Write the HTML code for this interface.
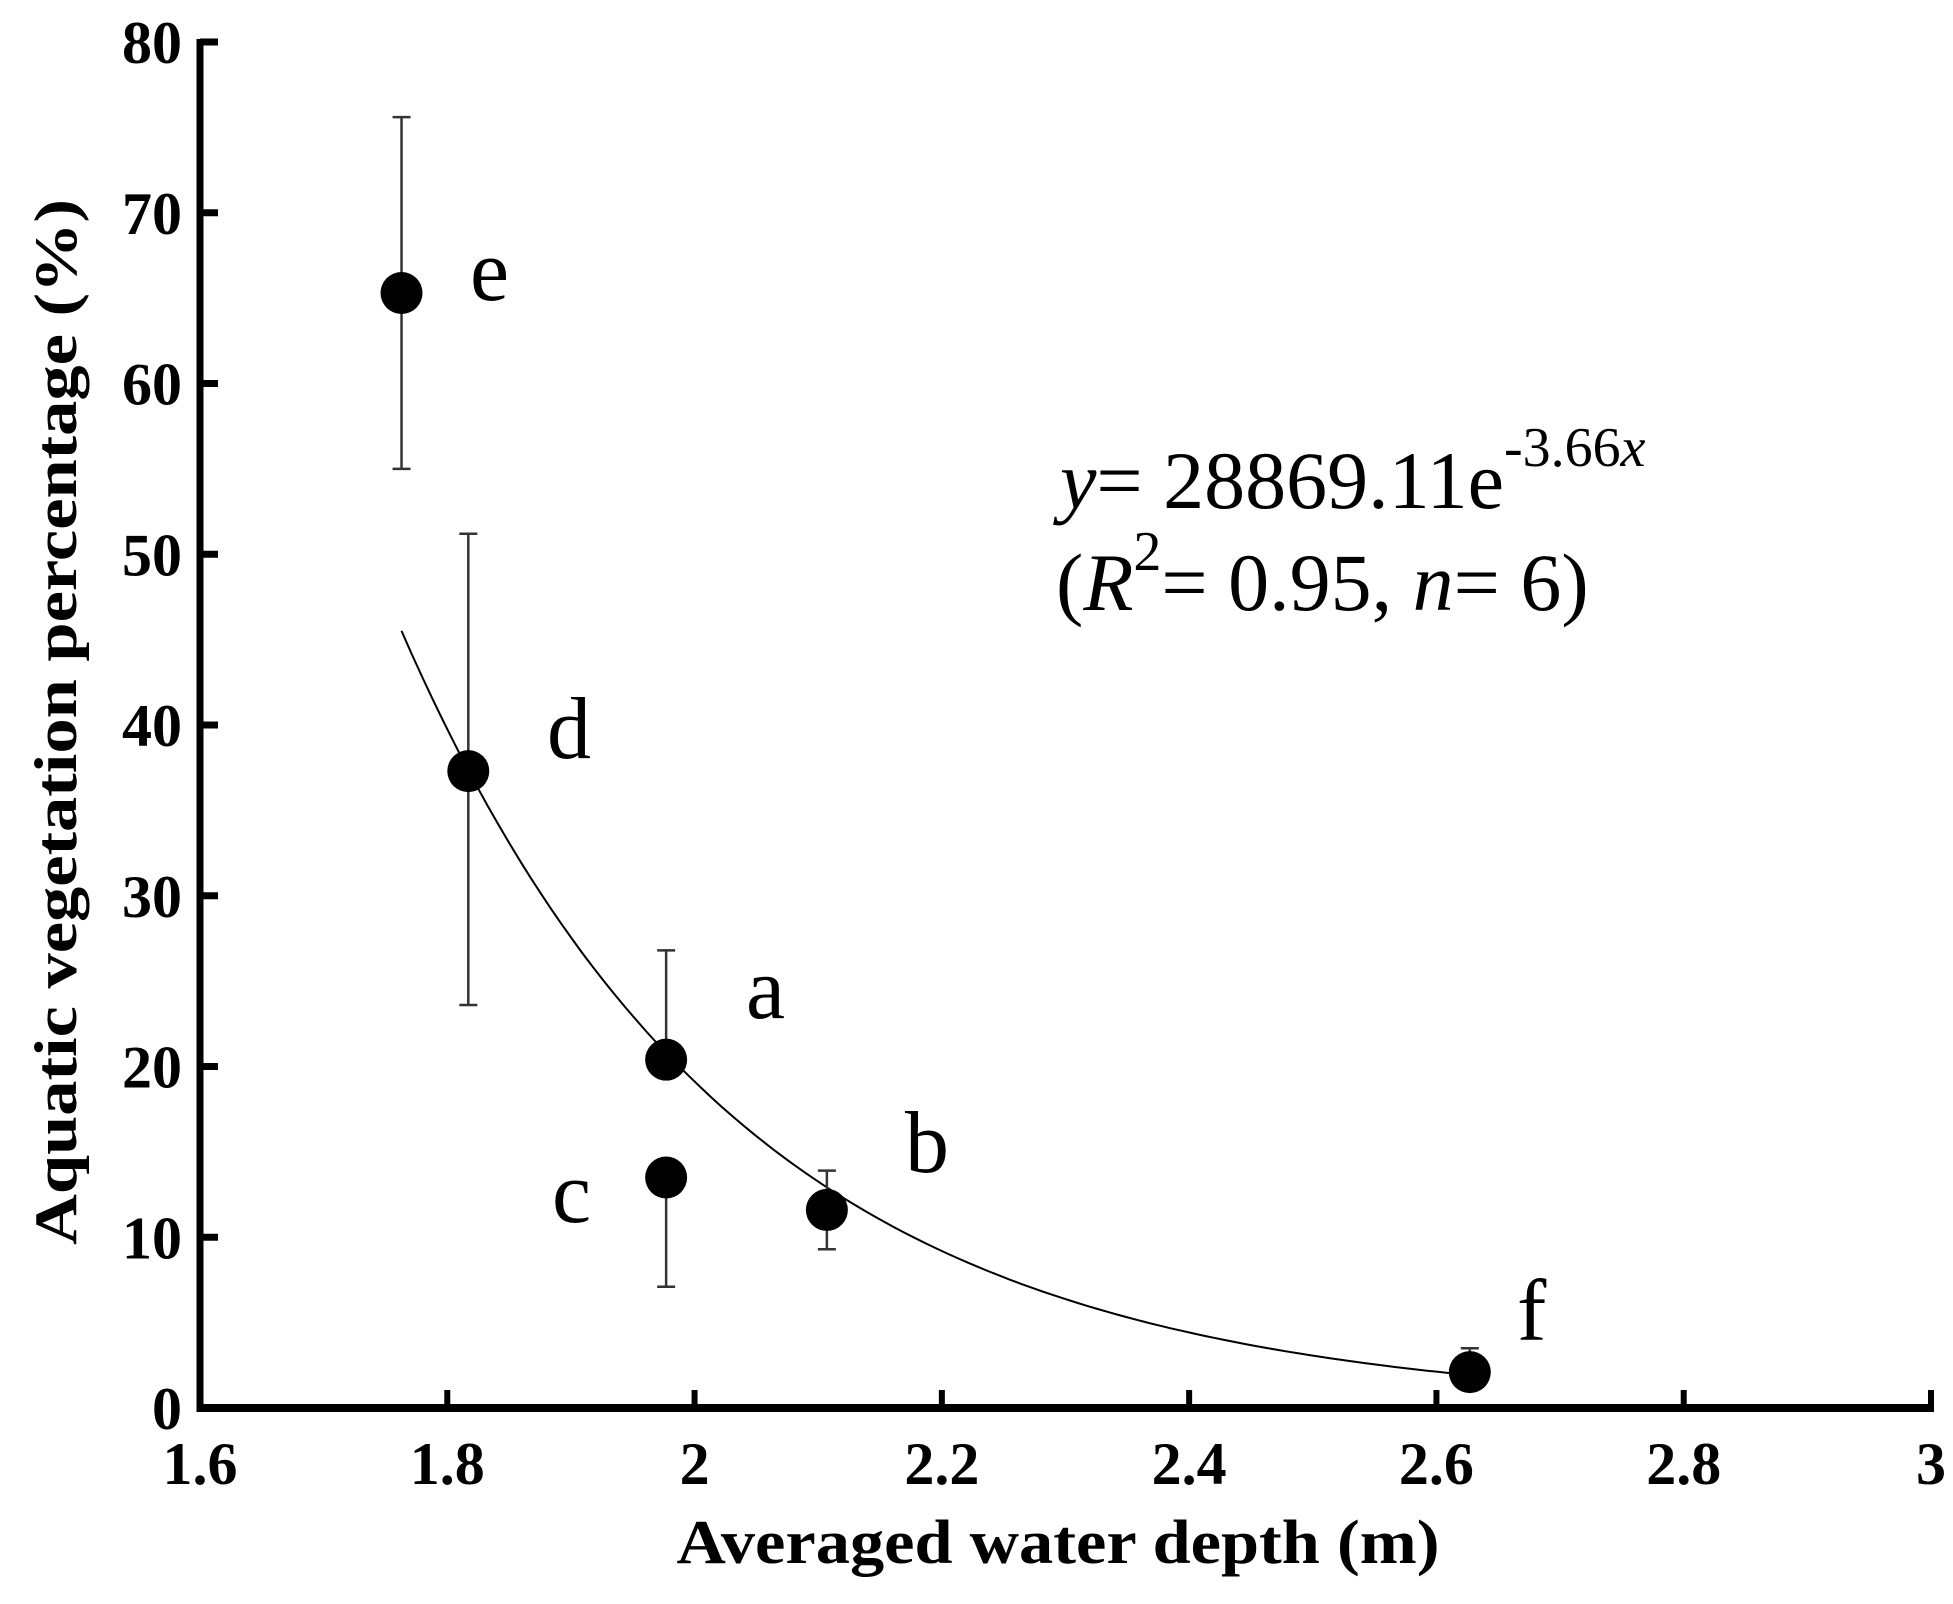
<!DOCTYPE html>
<html><head><meta charset="utf-8"><style>
html,body{margin:0;padding:0;background:#fff;}
svg{display:block;font-family:"Liberation Serif",serif;}
.ann{font-family:"Liberation Serif","DejaVu Serif",serif;}
</style></head><body>
<svg id="chart" width="1953" height="1604" viewBox="0 0 1953 1604" xmlns="http://www.w3.org/2000/svg">
<g id="plot"></g>
</svg>
<script>
const xTicks = [1.6, 1.8, 2, 2.2, 2.4, 2.6, 2.8, 3];
const yTicks = [0, 10, 20, 30, 40, 50, 60, 70, 80];
const pointLabels = ["e", "d", "a", "c", "b", "f"];
const depthValues = [1.763, 1.817, 1.977, 1.977, 2.107, 2.627];
const vegValues = [65.3, 37.3, 20.4, 13.5, 11.6, 2.1];
const errLow = [55.0, 23.6, 20.4, 7.1, 9.3, 1.2];
const errHigh = [75.6, 51.2, 26.8, 13.5, 13.9, 3.5];
const fitA = 28869.11;
const fitB = -3.66;
const fitRange = [1.763, 2.627];

const X0 = 200, X1 = 1931, Y0 = 1408, Y1 = 42;
const xs = v => X0 + (v - 1.6) / (3 - 1.6) * (X1 - X0);
const ys = v => Y0 - v / 80 * (Y0 - Y1);
const NS = "http://www.w3.org/2000/svg";
const g = document.getElementById('plot');
function mk(tag, attrs, parent) {
  const e = document.createElementNS(NS, tag);
  for (const k in attrs) e.setAttribute(k, attrs[k]);
  (parent || g).appendChild(e);
  return e;
}
let el = mk('line', {x1: X0, y1: Y1 - 3, x2: X0, y2: Y0 + 4, stroke: '#000', 'stroke-width': 7});


el = mk('line', {x1: X0 - 3, y1: Y0, x2: X1 + 3, y2: Y0, stroke: '#000', 'stroke-width': 8});


yTicks.forEach(t => {
  const y = ys(t);
  let tk = mk('line', {x1: X0, y1: y, x2: X0 + 18, y2: y, stroke: '#000', 'stroke-width': 7});
  
  
  let lb = mk('text', {x: 182, y: y + 21, 'text-anchor': 'end', 'font-size': 60, 'font-weight': 'bold'});
  lb.textContent = t;
  
  
});
xTicks.forEach(t => {
  const x = xs(t);
  let tk = mk('line', {x1: x, y1: Y0, x2: x, y2: Y0 - 18, stroke: '#000', 'stroke-width': 6});
  
  
  let lb = mk('text', {x: x, y: 1484, 'text-anchor': 'middle', 'font-size': 60, 'font-weight': 'bold'});
  lb.textContent = t;
  
  
});
el = mk('text', {x: 1058, y: 1563, 'text-anchor': 'middle', 'font-size': 62, 'font-weight': 'bold', textLength: 763, lengthAdjust: 'spacingAndGlyphs'});
el.textContent = 'Averaged water depth (m)';


el = mk('text', {x: 0, y: 0, 'text-anchor': 'middle', 'font-size': 60, 'font-weight': 'bold', textLength: 1046, lengthAdjust: 'spacingAndGlyphs', transform: 'translate(76,722) rotate(-90)'});
el.textContent = 'Aquatic vegetation percentage (%)';


let d = '';
for (let i = 0; i <= 100; i++) {
  const x = fitRange[0] + (fitRange[1] - fitRange[0]) * i / 100;
  const y = fitA * Math.exp(fitB * x);
  d += (i ? 'L' : 'M') + xs(x).toFixed(1) + ',' + ys(y).toFixed(1);
}
el = mk('path', {d: d, fill: 'none', stroke: '#000', 'stroke-width': 2});


depthValues.forEach((dv, i) => {
  const x = xs(dv);
  let eb = mk('path', {d: `M${x},${ys(errLow[i])}V${ys(errHigh[i])}M${x-9},${ys(errLow[i])}H${x+9}M${x-9},${ys(errHigh[i])}H${x+9}`, stroke: '#333', 'stroke-width': 2.5, fill: 'none'});
  
  
  let c = mk('circle', {cx: x, cy: ys(vegValues[i]), r: 21, fill: '#000'});
  
  
});
</script>
<svg style="position:absolute;left:0;top:0" width="1953" height="1604">
<g class="ann" style="font-family:'Liberation Serif',serif" font-size="88">
<text x="470" y="300">e</text>
<text x="547" y="758">d</text>
<text x="746" y="1018">a</text>
<text x="905" y="1172">b</text>
<text x="552" y="1222">c</text>
<text x="1517" y="1340">f</text>
</g>
<text class="ann" style="font-family:'Liberation Serif',serif" x="1060" y="508" font-size="82"><tspan font-style="italic">y</tspan>= 28869.11e<tspan font-size="56" dy="-42">-3.66<tspan font-style="italic">x</tspan></tspan></text>
<text class="ann" style="font-family:'Liberation Serif',serif" x="1056" y="610" font-size="82">(<tspan font-style="italic">R</tspan><tspan font-size="56" dy="-40">2</tspan><tspan dy="40">= 0.95, </tspan><tspan font-style="italic">n</tspan>= 6)</text>
</svg>
</body></html>
